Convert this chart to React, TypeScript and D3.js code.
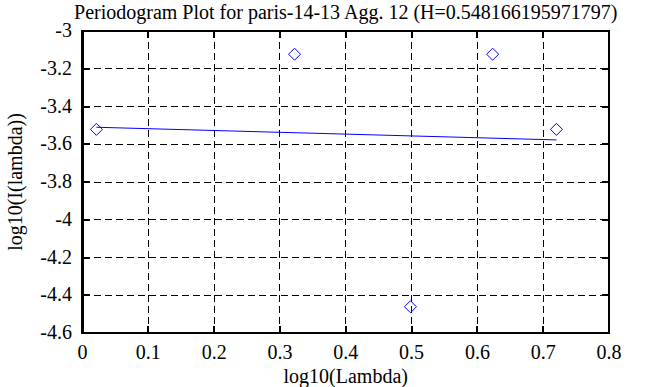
import React from "react";
import { scaleLinear, line } from "d3";

// periodogram points (log10 lambda, log10 I(lambda))
const logLambda = [0.0212, 0.3222, 0.4983, 0.6232, 0.7202];
const logPower = [-3.521, -3.123, -4.461, -3.123, -3.521];

// least squares fit, endpoints
const fitX = [0.0212, 0.7202];
const fitY = [-3.51, -3.577];

const xTicks = [0, 0.1, 0.2, 0.3, 0.4, 0.5, 0.6, 0.7, 0.8];
const yTicks = [-3, -3.2, -3.4, -3.6, -3.8, -4, -4.2, -4.4, -4.6];

const title = "Periodogram Plot for paris-14-13 Agg. 12 (H=0.548166195971797)";
const xTitle = "log10(Lambda)";
const yTitle = "log10(I(lambda))";

const W = 663;
const H = 387;
const left = 82.5;
const right = 609;
const top = 31;
const bottom = 333;

const font = "Liberation Serif, DejaVu Serif, serif";

export default function App() {
  const x = scaleLinear().domain([0, 0.8]).range([left, right]);
  const y = scaleLinear().domain([-4.6, -3]).range([bottom, top]);

  const fitPath = line<number>()
    .x((d) => x(d))
    .y((d, i) => y(fitY[i]))(fitX);

  const tickLen = 7;
  const fs = 20;

  return (
    <svg
      width={W}
      height={H}
      style={{ position: "absolute", left: 0, top: 0, background: "#fff", fontFamily: font }}
    >
      <rect x={0} y={0} width={W} height={H} fill="#fff" />

      {/* grid */}
      <g stroke="#000" strokeWidth={1} strokeDasharray="7,4" shapeRendering="crispEdges">
        {xTicks.slice(1, -1).map((t) => (
          <line key={"gx" + t} x1={x(t)} x2={x(t)} y1={top} y2={bottom} />
        ))}
        {yTicks.slice(1, -1).map((t) => (
          <line key={"gy" + t} x1={left} x2={right} y1={y(t)} y2={y(t)} />
        ))}
      </g>

      {/* ticks */}
      <g stroke="#000" strokeWidth={2} shapeRendering="crispEdges">
        {xTicks.map((t) => (
          <g key={"tx" + t}>
            <line x1={x(t)} x2={x(t)} y1={top} y2={top + tickLen} />
            <line x1={x(t)} x2={x(t)} y1={bottom} y2={bottom - tickLen} />
          </g>
        ))}
        {yTicks.map((t) => (
          <g key={"ty" + t}>
            <line x1={left} x2={left + tickLen} y1={y(t)} y2={y(t)} />
            <line x1={right} x2={right - tickLen} y1={y(t)} y2={y(t)} />
          </g>
        ))}
      </g>

      {/* frame */}
      <rect
        x={left}
        y={top}
        width={right - left}
        height={bottom - top}
        fill="none"
        stroke="#000"
        strokeWidth={2.5}
        shapeRendering="crispEdges"
      />

      {/* fit line */}
      <path d={fitPath || ""} fill="none" stroke="#0000ff" strokeWidth={1} />

      {/* points */}
      <g fill="none" stroke="#0000ff" strokeWidth={1}>
        {logLambda.map((v, i) => {
          const cx = x(v);
          const cy = y(logPower[i]);
          const r = 6;
          return (
            <path
              key={i}
              d={`M${cx},${cy - r}L${cx + r},${cy}L${cx},${cy + r}L${cx - r},${cy}Z`}
            />
          );
        })}
      </g>

      {/* tick labels */}
      <g fontSize={fs} fill="#000">
        {xTicks.map((t) => (
          <text key={"lx" + t} x={x(t)} y={359} textAnchor="middle">
            {String(t)}
          </text>
        ))}
        {yTicks.map((t) => (
          <text key={"ly" + t} x={72} y={y(t) + 6} textAnchor="end">
            {String(t)}
          </text>
        ))}
      </g>

      <text x={(left + right) / 2} y={19} textAnchor="middle" fontSize={fs}>
        {title}
      </text>
      <text x={(left + right) / 2} y={383} textAnchor="middle" fontSize={fs}>
        {xTitle}
      </text>
      <text
        transform={`translate(22,${(top + bottom) / 2}) rotate(-90)`}
        textAnchor="middle"
        fontSize={fs}
      >
        {yTitle}
      </text>
    </svg>
  );
}
